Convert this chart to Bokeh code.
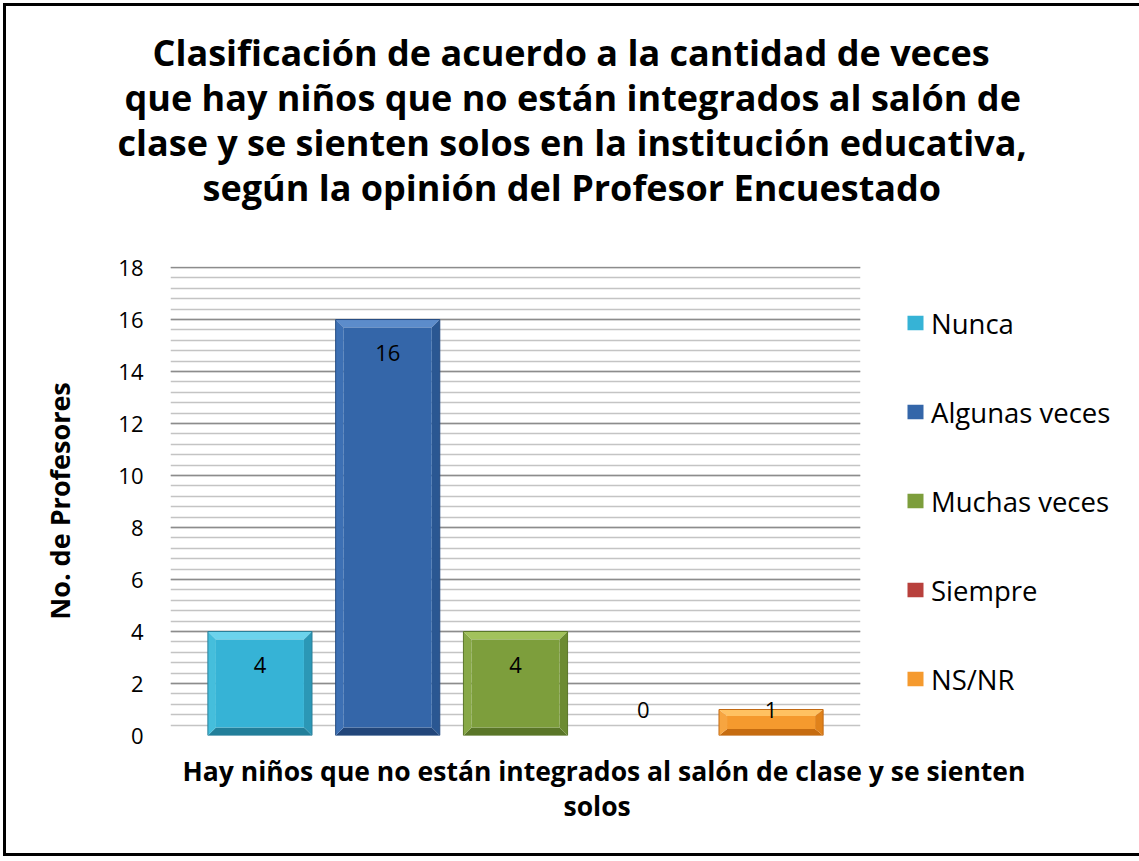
from bokeh.plotting import figure
from bokeh.models import (Range1d, SingleIntervalTicker, Legend, LegendItem,
                          ColumnDataSource, Title)
from bokeh.core.properties import value
from bokeh.embed import file_html
from bokeh.resources import INLINE

# ---- data ----
categories = ["Nunca", "Algunas veces", "Muchas veces", "Siempre", "NS/NR"]
counts = [4, 16, 4, 0, 1]
title_lines = [
    "Clasificación de acuerdo a la cantidad de veces",
    "que hay niños que no están integrados al salón de",
    "clase y se sienten solos en la institución educativa,",
    "según la opinión del Profesor Encuestado",
]
xlabel_lines = [
    "Hay niños que no están integrados al salón de clase y se sienten",
    "solos",
]
ylabel = "No. de Profesores"

# ---- style ----
face_colors = ["#36B3D6", "#3466A9", "#7D9E3C", "#B8403C", "#F59A2E"]
top_colors = ["#6CD3EC", "#5C8CCB", "#A2C25C", "#D86460", "#FFC262"]
left_colors = ["#45BEDC", "#3D70B4", "#87A846", "#C04844", "#F7A540"]
right_colors = ["#2B97B6", "#2A5792", "#6C8B31", "#9A302D", "#E0821B"]
bottom_colors = ["#227F9A", "#22467A", "#5A7628", "#7E2624", "#C66C10"]
edge_colors = ["#2A7F99", "#254C82", "#5A7628", "#8A2B29", "#C26A14"]
FONT = "Open Sans"

p = figure(frame_width=690, frame_height=469, output_backend="svg",
           toolbar_location=None,
           x_range=Range1d(-0.7, 4.7), y_range=Range1d(0, 18.04),
           min_border_left=164, min_border_right=271, min_border_top=260,
           min_border_bottom=118)
p.styles = {"border": "3px solid black", "margin": "3px"}
p.outline_line_color = None
p.background_fill_color = "white"
p.border_fill_color = "white"

# grid
p.yaxis.ticker = SingleIntervalTicker(interval=2, num_minor_ticks=5)
p.ygrid.grid_line_color = "#8C8C8C"
p.ygrid.grid_line_width = 1.5
p.ygrid.minor_grid_line_color = "#C4C4C4"
p.ygrid.minor_grid_line_width = 1.5
p.xgrid.grid_line_color = None

# axes
p.xaxis.visible = False
ya = p.yaxis[0]
ya.axis_line_color = None
ya.major_tick_line_color = None
ya.minor_tick_line_color = None
ya.major_label_text_font = FONT
ya.major_label_text_font_size = "22px"
ya.major_label_text_color = "black"
ya.major_label_standoff = 21
ya.axis_label = ylabel
ya.axis_label_text_font = FONT
ya.axis_label_text_font_style = "bold"
ya.axis_label_text_font_size = "27px"
ya.axis_label_text_color = "black"
ya.axis_label_standoff = 37

# bars with bevel look
bw = 0.815
ex = 0.063
items = []
for i, (cat, v) in enumerate(zip(categories, counts)):
    L, R, B, T = i - bw / 2, i + bw / 2, 0.0, float(v)
    ey = min(0.31, v * 0.25)
    if v > 0:
        xs = [[L, R, R - ex, L + ex],          # top
              [L, R, R - ex, L + ex],          # bottom
              [L, L, L + ex, L + ex],          # left
              [R, R, R - ex, R - ex]]          # right
        ys = [[T, T, T - ey, T - ey],
              [B, B, B + ey, B + ey],
              [B, T, T - ey, B + ey],
              [B, T, T - ey, B + ey]]
        cols = [top_colors[i], bottom_colors[i], left_colors[i], right_colors[i]]
        p.patches(xs=xs, ys=ys, fill_color=cols, line_color=None)
    r = p.quad(left=[L + ex], right=[R - ex], bottom=[B + ey], top=[T - ey],
               fill_color=face_colors[i], line_color=None)
    if v > 0:
        p.quad(left=[L], right=[R], bottom=[B], top=[T], fill_color=None,
               line_color=edge_colors[i], line_width=1)
    items.append(LegendItem(label=cat, renderers=[r]))

# data labels
lab_src = ColumnDataSource(dict(x=list(range(len(counts))),
                                y=[max(v - 1.3, 1.0) for v in counts],
                                t=[str(v) for v in counts]))
p.text(x="x", y="y", text="t", source=lab_src, text_align="center",
       text_baseline="middle", text_font=value(FONT), text_font_size="22px",
       text_color="black")

# legend in right panel
legend = Legend(items=items, location="center_left", orientation="vertical")
legend.label_text_font = FONT
legend.label_text_font_size = "27.5px"
legend.label_text_color = "black"
legend.glyph_height = 18
legend.glyph_width = 20
legend.label_height = 30
legend.spacing = 52
legend.label_standoff = 6
legend.border_line_color = None
legend.background_fill_alpha = 0
legend.padding = 0
legend.margin = 45
p.add_layout(legend, "right")

# title lines: spacer first (closest to frame), then bottom line up to top line
title_offsets = [-18, -46, -53, 32]
p.add_layout(Title(text=" ", text_font_size="10px", standoff=45), "above")
for line, off in reversed(list(zip(title_lines, title_offsets))):
    p.add_layout(Title(text=line, align="left", offset=off, text_font=FONT,
                       text_font_style="bold", text_font_size="36px",
                       text_color="black", standoff=-6), "above")

# x axis title lines below the frame
xlabel_offsets = [12, 393]
xlabel_standoffs = [-2, -3]
p.add_layout(Title(text=" ", text_font_size="10px", standoff=3), "below")
for line, off, so in zip(xlabel_lines, xlabel_offsets, xlabel_standoffs):
    p.add_layout(Title(text=line, align="left", offset=off, text_font=FONT,
                       text_font_style="bold", text_font_size="26.5px",
                       text_color="black", standoff=so), "below")

open("out.html", "w").write(file_html(p, INLINE))
